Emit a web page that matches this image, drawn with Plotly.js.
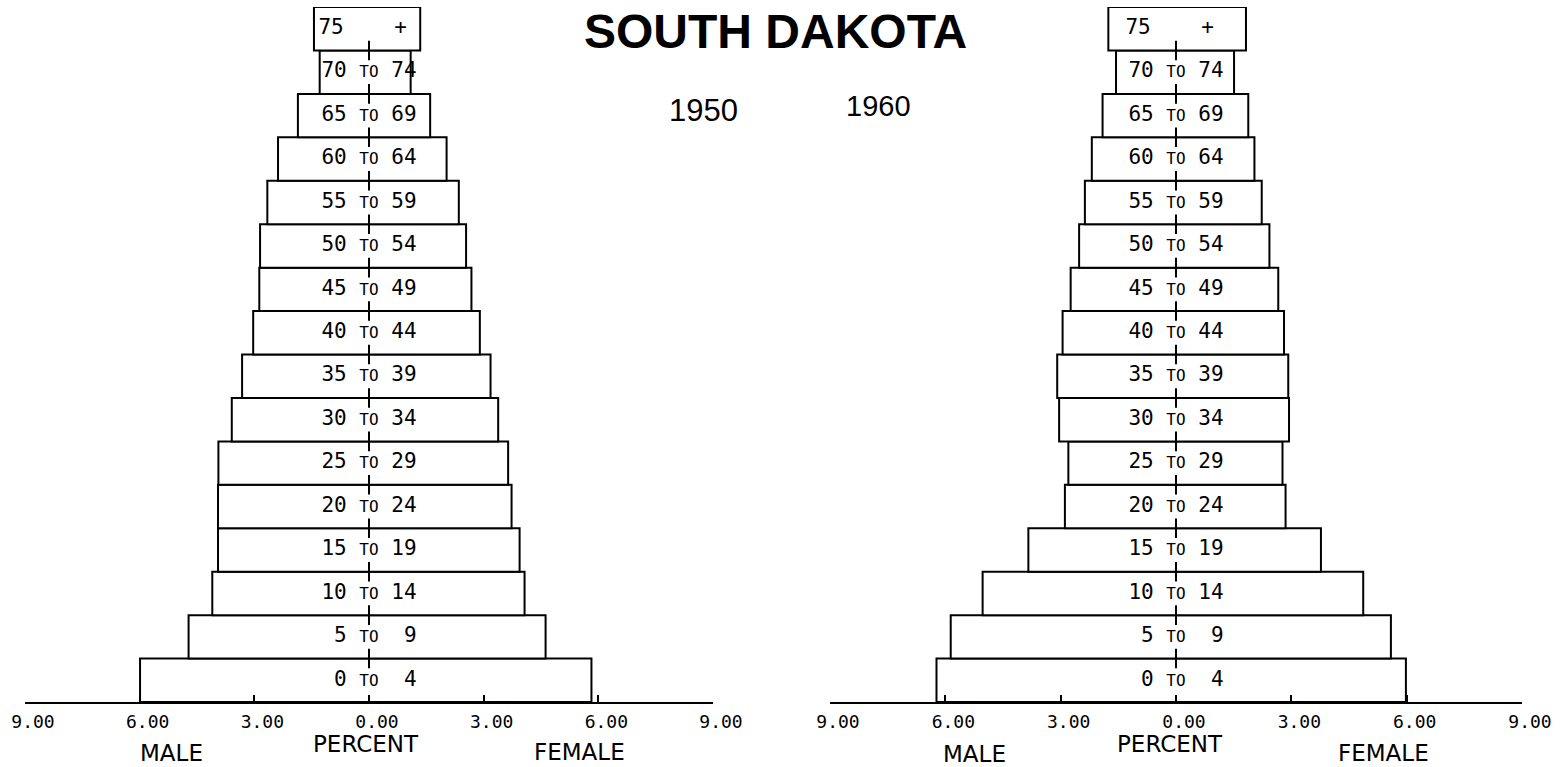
<!DOCTYPE html>
<html>
<head>
<meta charset="utf-8">
<script src="https://cdn.plot.ly/plotly-3.0.1.min.js"></script>
<style>html,body{margin:0;padding:0;background:#fff;}#chart{width:1563px;height:767px;}</style>
</head>
<body>
<div id="chart"></div>
<script>
// Age groups (bottom to top)
const ageStart = [0, 5, 10, 15, 20, 25, 30, 35, 40, 45, 50, 55, 60, 65, 70, 75];
const ageEnd   = [4, 9, 14, 19, 24, 29, 34, 39, 44, 49, 54, 59, 64, 69, 74, null];

// Percent of population
const male1950   = [5.99, 4.72, 4.10, 3.95, 3.95, 3.94, 3.59, 3.32, 3.03, 2.87, 2.85, 2.66, 2.38, 1.86, 1.29, 1.44];
const female1950 = [5.82, 4.62, 4.07, 3.94, 3.73, 3.64, 3.38, 3.18, 2.90, 2.68, 2.54, 2.35, 2.03, 1.60, 1.09, 1.34];
const male1960   = [6.23, 5.86, 5.03, 3.84, 2.89, 2.80, 3.04, 3.09, 2.95, 2.74, 2.52, 2.37, 2.19, 1.91, 1.56, 1.76];
const female1960 = [5.98, 5.59, 4.87, 3.77, 2.85, 2.77, 2.94, 2.92, 2.81, 2.66, 2.43, 2.23, 2.04, 1.88, 1.51, 1.82];

const tickVals = [-9, -6, -3, 0, 3, 6, 9];
const tickText = ['9.00', '6.00', '3.00', '0.00', '3.00', '6.00', '9.00'];

const NB = '\u00a0';
function pad2(n){ const s = String(n); return s.length < 2 ? NB + s : s; }
function label(i){
  if (ageEnd[i] === null) return String(ageStart[i]) + NB + NB + NB + NB + '+' + NB;
  return pad2(ageStart[i]) + NB + '<span style="font-size:16px">TO</span>' + NB + pad2(ageEnd[i]);
}
const yIdx = ageStart.map((_, i) => i);
const labels = ageStart.map((_, i) => label(i));
const boundaries = ageStart.slice(1).map((_, i) => i + 0.5);

function panel(male, female, xa, ya){
  return [
    {
      type: 'bar', orientation: 'h',
      y: yIdx,
      base: male.map(v => -v),
      x: male.map((v, i) => v + female[i]),
      width: 1,
      marker: {color: '#ffffff', line: {color: '#000000', width: 2}},
      xaxis: xa, yaxis: ya, hoverinfo: 'skip'
    },
    {
      type: 'scatter', mode: 'markers',
      x: boundaries.map(() => 0), y: boundaries,
      marker: {symbol: 'line-ns', size: 14, color: '#000', line: {color: '#000', width: 2}},
      xaxis: xa, yaxis: ya, hoverinfo: 'skip'
    },
    {
      type: 'scatter', mode: 'text',
      x: yIdx.map(() => 0), y: yIdx,
      text: labels, textposition: 'middle center',
      textfont: {family: 'DejaVu Sans Mono', size: 21, color: '#000'},
      xaxis: xa, yaxis: ya, hoverinfo: 'skip', cliponaxis: false
    }
  ];
}

const data = [].concat(
  panel(male1950, female1950, 'x', 'y'),
  panel(male1960, female1960, 'x2', 'y2')
);

const yDom = [1 - 702/767, 1 - 7/767];
const xAxisBase = {
  range: [-9, 9], showgrid: false, zeroline: false,
  showline: true, linecolor: '#000', linewidth: 2,
  ticks: 'inside', ticklen: 7, tickwidth: 2, tickcolor: '#000',
  tickvals: tickVals, ticktext: tickText,
  tickfont: {family: 'DejaVu Sans Mono', size: 18, color: '#000'},
  ticklabelshift: 8, ticklabelstandoff: 2,
  fixedrange: true
};
const yAxisBase = {
  range: [-0.5, 15.5], domain: yDom, showgrid: false, zeroline: false,
  showline: false, showticklabels: false, ticks: '', fixedrange: true
};

const axFont = {family: 'DejaVu Sans', size: 23, color: '#000'};
function ann(text, xref, x, y, font){
  return {text: text, xref: xref, yref: 'paper', x: x, y: 1 - y/767, showarrow: false,
          xanchor: 'center', yanchor: 'middle', font: font};
}

const layout = {
  width: 1563, height: 767,
  margin: {l: 0, r: 0, t: 0, b: 0},
  paper_bgcolor: '#fff', plot_bgcolor: '#fff',
  showlegend: false, hovermode: false, bargap: 0,
  xaxis: Object.assign({}, xAxisBase, {domain: [25/1563, 713/1563], anchor: 'y'}),
  yaxis: Object.assign({}, yAxisBase, {anchor: 'x'}),
  xaxis2: Object.assign({}, xAxisBase, {domain: [830/1563, 1522/1563], anchor: 'y2'}),
  yaxis2: Object.assign({}, yAxisBase, {anchor: 'x2'}),
  annotations: [
    ann('SOUTH DAKOTA', 'paper', 775/1563, 32, {family: 'Liberation Sans', size: 48, color: '#000', weight: 'bold'}),
    ann('1950', 'paper', 703/1563, 110, {family: 'Liberation Sans', size: 31, color: '#000'}),
    ann('1960', 'paper', 878/1563, 106, {family: 'Liberation Sans', size: 29, color: '#000'}),
    ann('MALE', 'x', -5.18, 753, axFont),
    ann('PERCENT', 'x', -0.08, 744, axFont),
    ann('FEMALE', 'x', 5.5, 752, axFont),
    ann('MALE', 'x2', -5.23, 754, axFont),
    ann('PERCENT', 'x2', -0.16, 744, axFont),
    ann('FEMALE', 'x2', 5.39, 753, axFont)
  ]
};

Plotly.newPlot('chart', data, layout, {displayModeBar: false, staticPlot: true});
</script>
</body>
</html>
